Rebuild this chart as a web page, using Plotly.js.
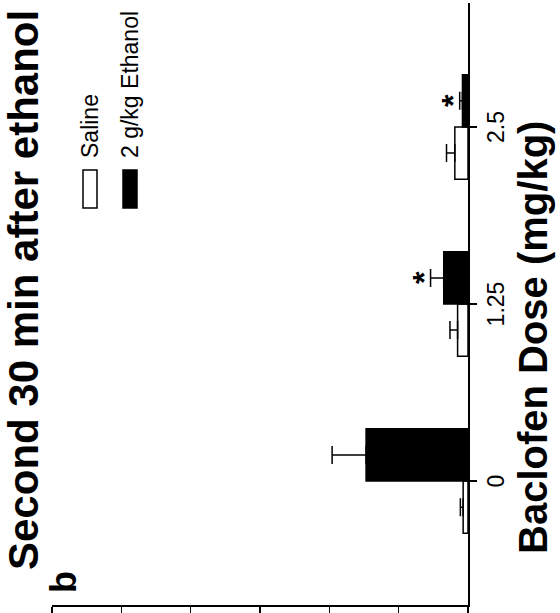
<!DOCTYPE html>
<html>
<head>
<meta charset="utf-8">
<script src="https://cdn.plot.ly/plotly-3.0.1.min.js"></script>
<style>
html,body{margin:0;padding:0;background:#fff;overflow:hidden;width:560px;height:613px;}
#wrap{position:absolute;left:0;top:0;width:613px;height:560px;transform-origin:0 0;transform:translate(0px,613px) rotate(-90deg);}
#chart{width:613px;height:560px;}
</style>
</head>
<body>
<div id="wrap"><div id="chart"></div></div>
<script>
// Data (values in units of the unlabeled value axis, 10 per tick)
const doses = ['0', '1.25', '2.5'];
const salineMean = [0.7, 1.5, 1.9];
const salineErr = [0.4, 1.1, 1.2];
const ethanolMean = [14.7, 3.5, 0.8];
const ethanolErr = [4.9, 1.9, 0.4];
const sigDoses = ['1.25', '2.5'];
const seriesNames = ['Saline', '2 g/kg Ethanol'];

const FONT = 'Liberation Sans, Arial, sans-serif';
const W = 613, H = 560;
const M = {l: 8, r: 3, t: 52, b: 92};
const PW = W - M.l - M.r, PH = H - M.t - M.b;
const px = ox => (ox - M.l) / PW;          // pixel -> paper x
const py = oy => 1 - (oy - M.t) / PH;      // pixel -> paper y

const traces = [
  {
    type: 'bar', name: seriesNames[0], x: doses, y: salineMean,
    marker: {color: '#ffffff', line: {color: '#000', width: 1.5}},
    error_y: {type: 'data', symmetric: false, array: salineErr, arrayminus: salineErr.map(() => 0),
              color: '#000', thickness: 1.5, width: 9}
  },
  {
    type: 'bar', name: seriesNames[1], x: doses, y: ethanolMean,
    marker: {color: '#000000', line: {color: '#000', width: 1.5}},
    error_y: {type: 'data', symmetric: false, array: ethanolErr, arrayminus: ethanolErr.map(() => 0),
              color: '#000', thickness: 1.5, width: 9}
  }
];

const annotations = [];
sigDoses.forEach(d => {
  const i = doses.indexOf(d);
  annotations.push({
    x: i, y: ethanolMean[i] + ethanolErr[i], xref: 'x', yref: 'y',
    text: '<b>*</b>', showarrow: false, xshift: 26, yshift: -13,
    xanchor: 'center', yanchor: 'bottom',
    font: {family: FONT, size: 32, color: '#000'}
  });
});
// panel letter
annotations.push({
  xref: 'paper', yref: 'paper', x: px(18), y: py(86),
  xanchor: 'left', yanchor: 'bottom', showarrow: false,
  text: '<b>b</b>', font: {family: FONT, size: 36, color: '#000'}
});
// x axis title
annotations.push({
  xref: 'paper', yref: 'paper', x: px(275), y: py(557),
  xanchor: 'center', yanchor: 'bottom', showarrow: false,
  text: '<b>Baclofen Dose (mg/kg)</b>', font: {family: FONT, size: 40, color: '#000'}
});
// legend
const legRows = [90, 130];
seriesNames.forEach((n, k) => {
  annotations.push({
    xref: 'paper', yref: 'paper', x: px(453), y: py(legRows[k]),
    xanchor: 'left', yanchor: 'middle', showarrow: false,
    text: n, font: {family: FONT, size: 23, color: '#000'}
  });
});
const shapes = seriesNames.map((n, k) => ({
  type: 'rect', xref: 'paper', yref: 'paper',
  x0: px(405), x1: px(443),
  y0: py(legRows[k] - 7), y1: py(legRows[k] + 7),
  line: {color: '#000', width: 1.5}, fillcolor: k === 0 ? '#fff' : '#000'
}));

const layout = {
  width: W, height: H,
  margin: M,
  paper_bgcolor: '#fff', plot_bgcolor: '#fff',
  showlegend: false,
  barmode: 'group', bargap: 0.41, bargroupgap: 0,
  font: {family: FONT, color: '#000'},
  title: {
    text: '<b>Second 30 min after ethanol</b>',
    font: {family: FONT, size: 42, color: '#000'},
    xref: 'container', yref: 'container',
    x: 43 / W, xanchor: 'left', y: 1 - 38 / H, yanchor: 'bottom'
  },
  xaxis: {
    type: 'category', range: [-0.7, 2.7],
    showline: true, linecolor: '#000', linewidth: 1.5,
    ticks: 'outside', ticklen: 7, tickwidth: 1.5, tickcolor: '#000',
    tickfont: {family: FONT, size: 23, color: '#000'},
    showgrid: false, zeroline: false
  },
  yaxis: {
    range: [0, 60], dtick: 10, tick0: 0,
    showline: true, linecolor: '#000', linewidth: 1.5,
    ticks: 'outside', ticklen: 10, tickwidth: 1.5, tickcolor: '#000',
    showticklabels: false, showgrid: false, zeroline: false
  },
  annotations: annotations,
  shapes: shapes
};

Plotly.newPlot('chart', traces, layout, {staticPlot: true, displayModeBar: false});
</script>
</body>
</html>
